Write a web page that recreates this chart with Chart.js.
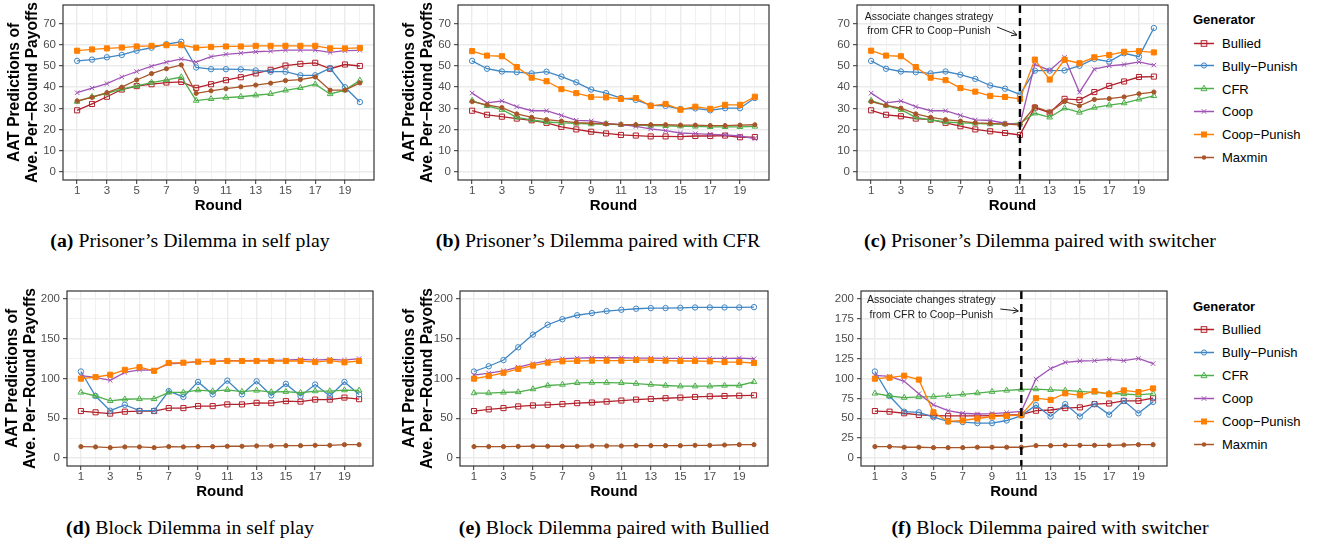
<!DOCTYPE html>
<html>
<head>
<meta charset="utf-8">
<script src="https://cdn.jsdelivr.net/npm/chart.js@4.4.1/dist/chart.umd.min.js"></script>
<style>
  body { margin: 0; background: #fff; width: 1321px; height: 544px; position: relative; overflow: hidden;
         font-family: "Liberation Sans", Arial, sans-serif; }
  canvas { position: absolute; }
  .cap { position: absolute; font-family: "Liberation Serif", "Times New Roman", serif; font-size: 19.8px;
         color: #000; white-space: nowrap; transform: translate(-50%, -50%); }
  .lg { position: absolute; font-size: 13px; color: #000; white-space: nowrap; transform: translateY(-50%); }
  .lg b { font-weight: bold; }
  .lg svg { position: absolute; }
</style>
</head>
<body>

<div class="cap" style="left:190px;top:240px"><b>(a)</b> Prisoner’s Dilemma in self play</div>
<div class="cap" style="left:598px;top:240px"><b>(b)</b> Prisoner’s Dilemma paired with CFR</div>
<div class="cap" style="left:1040px;top:240px"><b>(c)</b> Prisoner’s Dilemma paired with switcher</div>
<div class="cap" style="left:190px;top:527px"><b>(d)</b> Block Dilemma in self play</div>
<div class="cap" style="left:614px;top:527px"><b>(e)</b> Block Dilemma paired with Bullied</div>
<div class="cap" style="left:1050px;top:527px"><b>(f)</b> Block Dilemma paired with switcher</div>

<script>
const rounds = [1, 2, 3, 4, 5, 6, 7, 8, 9, 10, 11, 12, 13, 14, 15, 16, 17, 18, 19, 20];
const seriesNames = ['Bullied', 'Bully−Punish', 'CFR', 'Coop', 'Coop−Punish', 'Maxmin'];

const pdTicks = [0, 5, 10, 15, 20, 25, 30, 35, 40, 45, 50, 55, 60, 65, 70, 75];
const pdLabels = [0, 10, 20, 30, 40, 50, 60, 70];
const bdTicks = [0, 25, 50, 75, 100, 125, 150, 175, 200];
const bdLabels = [0, 50, 100, 150, 200];
const bdSwTicks = [0, 12.5, 25, 37.5, 50, 62.5, 75, 87.5, 100, 112.5, 125, 137.5, 150, 162.5, 175, 187.5, 200];
const bdSwLabels = [0, 25, 50, 75, 100, 125, 150, 175, 200];

// (a) Prisoner's Dilemma in self play
const aBullied     = [29.1, 32.1, 35.5, 38.9, 40.5, 41.4, 42.2, 42.5, 39.7, 41.4, 43.3, 44.7, 46.5, 48.2, 50.2, 51.0, 51.5, 48.7, 50.7, 50.0];
const aBullyPunish = [52.4, 53.0, 54.1, 55.2, 57.2, 58.6, 60.3, 61.4, 49.3, 48.5, 48.5, 48.4, 47.9, 47.3, 47.3, 45.6, 45.6, 49.0, 40.0, 33.0];
const aCFR         = [33.2, 35.5, 37.1, 39.1, 40.6, 42.2, 43.4, 44.8, 33.7, 34.5, 35.1, 35.5, 36.2, 36.9, 38.5, 39.7, 41.4, 36.8, 38.6, 43.2];
const aCoop        = [37.4, 39.6, 41.7, 44.8, 47.4, 49.9, 51.8, 53.3, 51.8, 54.4, 55.5, 56.1, 56.7, 57.0, 57.5, 57.5, 57.5, 56.4, 57.2, 57.4];
const aCoopPunish  = [57.2, 57.8, 58.3, 58.7, 59.2, 59.5, 59.8, 59.8, 58.6, 59.0, 59.2, 59.2, 59.5, 59.5, 59.5, 59.5, 59.5, 58.3, 58.3, 58.5];
const aMaxmin      = [33.5, 35.2, 37.4, 40.0, 43.4, 46.4, 48.7, 50.5, 37.1, 38.3, 39.3, 40.2, 41.0, 41.9, 43.1, 43.6, 44.8, 38.6, 38.6, 42.0];

// (b) Prisoner's Dilemma paired with CFR
const bBullied     = [28.9, 27.0, 26.1, 25.2, 24.4, 23.2, 21.3, 20.1, 19.0, 18.2, 17.5, 17.2, 16.8, 16.8, 16.7, 17.0, 17.0, 17.2, 16.4, 16.5];
const bBullyPunish = [52.4, 48.7, 47.4, 47.1, 46.5, 47.3, 45.0, 42.3, 38.9, 37.2, 34.9, 34.0, 31.4, 31.2, 29.7, 30.0, 29.1, 30.1, 30.1, 34.9];
const bCFR         = [33.7, 31.2, 29.4, 25.8, 24.6, 23.6, 23.2, 22.9, 22.6, 22.7, 22.3, 22.1, 21.9, 21.8, 21.6, 21.5, 21.3, 21.3, 21.3, 21.5];
const bCoop        = [37.2, 32.6, 33.5, 30.8, 28.9, 28.9, 26.7, 24.4, 24.1, 22.9, 22.4, 21.5, 20.4, 19.5, 18.4, 18.1, 17.8, 17.5, 17.0, 15.8];
const bCoopPunish  = [57.0, 54.9, 54.6, 49.5, 44.5, 42.8, 39.1, 37.2, 35.4, 35.2, 34.5, 34.9, 31.2, 32.1, 29.4, 30.8, 29.8, 31.7, 31.7, 35.5];
const bMaxmin      = [33.2, 31.7, 30.4, 27.4, 25.8, 24.7, 24.0, 23.3, 23.0, 22.7, 22.4, 22.3, 22.3, 22.3, 22.1, 22.1, 21.9, 21.9, 22.1, 22.3];

// (c) Prisoner's Dilemma paired with switcher
const cBullied     = [29.1, 27.0, 26.3, 25.2, 24.7, 23.2, 21.6, 20.1, 19.2, 18.4, 17.5, 30.4, 28.0, 34.5, 34.0, 37.7, 40.6, 42.7, 44.8, 45.0];
const cBullyPunish = [52.4, 48.7, 47.4, 47.1, 46.5, 47.4, 45.9, 43.9, 40.8, 39.3, 36.6, 47.8, 47.8, 47.9, 50.1, 53.3, 52.1, 56.0, 54.4, 67.9];
const cCFR         = [33.7, 31.4, 29.4, 25.8, 24.6, 23.6, 23.2, 22.9, 22.6, 22.6, 23.0, 27.7, 25.8, 30.1, 28.1, 30.4, 31.5, 32.5, 34.3, 35.9];
const cCoop        = [37.2, 32.6, 33.5, 30.8, 28.9, 28.9, 26.7, 24.6, 24.3, 23.0, 22.4, 50.8, 47.9, 54.1, 37.6, 48.5, 50.1, 50.7, 51.9, 50.4];
const cCoopPunish  = [57.2, 54.9, 54.6, 49.5, 44.5, 43.3, 39.6, 37.9, 35.9, 35.4, 34.5, 53.0, 43.6, 52.9, 51.3, 54.1, 55.2, 56.7, 57.0, 56.4];
const cMaxmin      = [33.2, 31.4, 30.1, 27.4, 25.8, 24.7, 24.0, 23.2, 22.9, 22.6, 22.3, 30.8, 28.3, 33.2, 31.2, 34.2, 34.6, 35.4, 36.9, 37.7];

// (d) Block Dilemma in self play
const dBullied     = [59.1, 57.5, 55.9, 58.3, 59.1, 59.1, 62.8, 62.8, 65.3, 65.3, 67.4, 67.4, 69.4, 69.0, 71.5, 71.0, 73.5, 73.5, 76.0, 74.0];
const dBullyPunish = [108.8, 78.0, 59.5, 66.9, 59.5, 59.5, 84.2, 76.8, 95.7, 80.1, 97.3, 80.1, 96.5, 78.9, 93.2, 78.0, 92.4, 78.0, 95.7, 80.0];
const dCFR         = [82.5, 78.0, 71.9, 73.9, 74.3, 74.3, 82.5, 82.5, 85.4, 84.2, 85.8, 83.4, 85.0, 83.0, 83.4, 82.1, 84.2, 84.2, 85.4, 85.0];
const dCoop        = [103.5, 101.4, 97.7, 107.6, 110.9, 110.5, 118.3, 119.5, 121.1, 121.6, 122.4, 122.4, 122.8, 122.8, 123.2, 124.0, 123.2, 124.0, 123.2, 125.0];
const dCoopPunish  = [99.8, 101.8, 104.7, 110.9, 114.2, 109.7, 119.5, 119.9, 121.1, 121.1, 122.0, 122.0, 122.0, 122.0, 122.0, 122.0, 120.7, 122.4, 120.3, 122.0];
const dMaxmin      = [14.4, 14.0, 13.1, 14.0, 14.0, 13.1, 14.4, 14.0, 14.4, 14.4, 14.8, 14.8, 15.2, 15.2, 15.6, 15.6, 16.0, 16.0, 16.8, 16.8];

// (e) Block Dilemma paired with Bullied
const eBullied     = [59.1, 61.2, 62.8, 64.9, 66.1, 66.9, 67.8, 69.0, 69.8, 71.0, 72.3, 73.5, 74.3, 75.2, 76.0, 76.8, 77.6, 78.0, 78.4, 78.9];
const eBullyPunish = [108.8, 115.4, 123.2, 139.2, 155.2, 167.6, 174.5, 179.5, 182.3, 184.8, 186.4, 187.7, 188.5, 188.5, 188.9, 189.3, 189.3, 189.3, 189.3, 189.7];
const eCFR         = [81.7, 81.7, 82.5, 83.0, 86.7, 91.2, 92.4, 94.5, 94.9, 94.9, 94.5, 93.6, 92.4, 91.2, 90.3, 90.3, 90.3, 91.2, 91.2, 95.7];
const eCoop        = [104.3, 106.8, 109.7, 114.2, 118.7, 122.4, 124.8, 125.7, 126.1, 126.1, 126.1, 125.7, 125.7, 125.3, 125.3, 125.3, 125.3, 125.3, 125.7, 124.8];
const eCoopPunish  = [99.8, 103.1, 107.2, 112.1, 116.2, 119.9, 121.6, 122.0, 122.4, 122.4, 122.4, 123.2, 123.2, 122.4, 122.0, 122.0, 121.6, 120.7, 120.7, 119.5];
const eMaxmin      = [14.4, 14.4, 14.4, 14.6, 14.8, 14.8, 14.8, 14.8, 15.2, 15.2, 15.2, 15.6, 15.6, 15.6, 15.6, 16.0, 16.0, 16.4, 16.8, 16.8];

// (f) Block Dilemma paired with switcher
const fBullied     = [59.1, 58.3, 56.3, 54.2, 53.4, 53.0, 53.0, 53.0, 53.4, 53.8, 54.6, 59.5, 60.4, 62.8, 63.7, 67.8, 68.6, 71.9, 71.9, 75.2];
const fBullyPunish = [108.8, 78.0, 58.3, 57.5, 51.3, 46.0, 45.2, 43.9, 43.9, 47.2, 53.4, 66.5, 52.2, 67.8, 52.2, 67.8, 54.6, 71.9, 56.3, 70.6];
const fCFR         = [81.3, 78.0, 76.0, 76.8, 77.2, 78.4, 80.1, 81.7, 83.4, 85.0, 86.2, 86.7, 85.8, 85.0, 83.8, 82.5, 81.3, 80.5, 79.3, 80.9];
const fCoop        = [103.9, 102.7, 96.5, 80.9, 66.9, 59.5, 56.3, 55.4, 55.9, 57.1, 58.7, 99.4, 112.5, 120.3, 122.0, 122.4, 124.0, 122.4, 125.3, 118.7];
const fCoopPunish  = [99.8, 101.0, 103.5, 98.6, 57.5, 46.0, 47.2, 49.7, 52.2, 53.0, 54.2, 75.2, 73.1, 81.3, 78.9, 84.2, 80.1, 85.0, 83.0, 87.5];
const fMaxmin      = [14.4, 14.4, 13.6, 13.6, 13.1, 13.1, 13.1, 13.6, 13.6, 13.6, 13.6, 15.6, 15.6, 16.0, 16.0, 16.0, 16.0, 16.4, 16.8, 16.8];

// styles
const colors  = ['#B2202A', '#3F86C4', '#4DAF4A', '#A055B5', '#FF7F00', '#A65628'];
const shapes  = ['rect', 'circle', 'triangle', 'crossRot', 'rect', 'circle'];
const filled  = [false, false, false, false, true, true];
const radii   = [3.6, 2.7, 3.3, 3.2, 3.6, 2.1];

const sans = '"Liberation Sans", Arial, sans-serif';

const frame = {
  id: 'frame',
  afterDraw(chart) {
    const { ctx, chartArea: a } = chart;
    ctx.save();
    ctx.strokeStyle = '#333333';
    ctx.lineWidth = 1.2;
    ctx.strokeRect(a.left, a.top, a.right - a.left, a.bottom - a.top);
    ctx.restore();
  }
};

// dashed line at the switch round + note with arrow
const switchNote = {
  id: 'switchNote',
  afterDatasetsDraw(chart, args, opts) {
    const { ctx, chartArea: a, scales: { x } } = chart;
    const px = x.getPixelForValue(opts.round);
    ctx.save();
    ctx.strokeStyle = '#000';
    ctx.lineWidth = 2.4;
    ctx.setLineDash([8, 5]);
    ctx.beginPath();
    ctx.moveTo(px, a.top);
    ctx.lineTo(px, a.bottom);
    ctx.stroke();
    ctx.setLineDash([]);

    ctx.fillStyle = '#1a1a1a';
    ctx.font = '10.5px ' + sans;
    ctx.textAlign = 'center';
    ctx.textBaseline = 'middle';
    opts.lines.forEach((t, i) => ctx.fillText(t, px + opts.textDx, a.top + opts.textDy[i]));

    const x0 = px + opts.arrow[0], y0 = a.top + opts.arrow[1];
    const x1 = px + opts.arrow[2], y1 = a.top + opts.arrow[3];
    const ang = Math.atan2(y1 - y0, x1 - x0);
    ctx.lineWidth = 1;
    ctx.strokeStyle = '#1a1a1a';
    ctx.beginPath();
    ctx.moveTo(x0, y0);
    ctx.lineTo(x1, y1);
    ctx.moveTo(x1 - 6 * Math.cos(ang - 0.5), y1 - 6 * Math.sin(ang - 0.5));
    ctx.lineTo(x1, y1);
    ctx.lineTo(x1 - 6 * Math.cos(ang + 0.5), y1 - 6 * Math.sin(ang + 0.5));
    ctx.stroke();
    ctx.restore();
  }
};

function makePanel(p) {
  const padTop = 2, padRight = 2, xh = 36;
  const plotW = p.plot[2] - p.plot[0], plotH = p.plot[3] - p.plot[1];
  const cv = document.createElement('canvas');
  cv.width = p.yw + plotW + padRight;
  cv.height = padTop + plotH + xh;
  cv.style.left = (p.plot[0] - p.yw) + 'px';
  cv.style.top = (p.plot[1] - padTop) + 'px';
  document.body.appendChild(cv);

  const datasets = p.series.map((vals, i) => ({
    label: seriesNames[i],
    data: rounds.map((r, k) => ({ x: r, y: vals[k] })),
    borderColor: colors[i],
    backgroundColor: filled[i] ? colors[i] : 'rgba(0,0,0,0)',
    pointBorderColor: colors[i],
    pointBackgroundColor: filled[i] ? colors[i] : 'rgba(0,0,0,0)',
    pointStyle: shapes[i],
    pointRadius: radii[i],
    pointBorderWidth: 1,
    borderWidth: 1.3,
    tension: 0,
    order: 6 - i
  }));

  const majorX = v => v % 2 === 1;
  const majorY = v => p.yLabels.includes(v);

  new Chart(cv, {
    type: 'line',
    data: { datasets },
    plugins: p.note ? [frame, switchNote] : [frame],
    options: {
      responsive: false,
      animation: false,
      layout: { padding: { top: padTop, right: padRight, left: 0, bottom: 0 } },
      plugins: {
        legend: { display: false },
        tooltip: { enabled: false },
        switchNote: p.note || {}
      },
      scales: {
        x: {
          type: 'linear',
          min: 0.05,
          max: 20.95,
          afterBuildTicks: s => { s.ticks = rounds.map(v => ({ value: v })); },
          afterFit: s => { s.height = xh; s.paddingLeft = 0; s.paddingRight = 0; },
          ticks: {
            autoSkip: false, maxRotation: 0, padding: 0,
            color: '#4d4d4d', font: { family: sans, size: 11.5 },
            callback: v => majorX(v) ? String(v) : ''
          },
          grid: {
            color: '#ebebeb',
            lineWidth: c => (c.tick && majorX(c.tick.value)) ? 1.4 : 0.7,
            tickLength: 4,
            tickColor: c => (c.tick && majorX(c.tick.value)) ? '#333333' : 'rgba(0,0,0,0)',
            tickWidth: 1
          },
          border: { display: false },
          title: {
            display: true, text: 'Round', color: '#000',
            font: { family: sans, size: 15, weight: 'bold', lineHeight: '18px' },
            padding: { top: 0, bottom: 1 }
          }
        },
        y: {
          type: 'linear',
          min: p.yMin,
          max: p.yMax,
          afterBuildTicks: s => { s.ticks = p.yTicks.map(v => ({ value: v })); },
          afterFit: s => { s.width = p.yw; s.paddingTop = 0; s.paddingBottom = 0; },
          ticks: {
            padding: 3,
            color: '#4d4d4d', font: { family: sans, size: 11.5 },
            callback: v => majorY(v) ? String(v) : ''
          },
          grid: {
            color: '#ebebeb',
            lineWidth: c => (c.tick && majorY(c.tick.value)) ? 1.4 : 0.7,
            tickLength: 4,
            tickColor: c => (c.tick && majorY(c.tick.value)) ? '#333333' : 'rgba(0,0,0,0)',
            tickWidth: 1
          },
          border: { display: false },
          title: {
            display: p.yTitle, text: ['AAT Predictions of', 'Ave. Per−Round Payoffs'], color: '#000',
            font: { family: sans, size: 15.6, weight: 'bold', lineHeight: '18px' },
            padding: { top: p.titlePad || 6, bottom: 0 }
          }
        }
      }
    }
  });
}

const pdAxis = { yMin: -3.75, yMax: 78.75, yTicks: pdTicks, yLabels: pdLabels };
const bdAxis = { yMin: -10, yMax: 210, yTicks: bdTicks, yLabels: bdLabels };
const bdSwAxis = { yMin: -10, yMax: 210, yTicks: bdSwTicks, yLabels: bdSwLabels };
const noteLines = ['Associate changes strategy', 'from CFR to Coop−Punish'];

makePanel({ ...pdAxis, plot: [63, 2, 377, 180], yw: 63, yTitle: true,
  series: [aBullied, aBullyPunish, aCFR, aCoop, aCoopPunish, aMaxmin] });
makePanel({ ...pdAxis, plot: [458, 2, 772, 180], yw: 63, yTitle: true,
  series: [bBullied, bBullyPunish, bCFR, bCoop, bCoopPunish, bMaxmin] });
makePanel({ ...pdAxis, plot: [857, 2, 1171, 180], yw: 30, yTitle: false,
  series: [cBullied, cBullyPunish, cCFR, cCoop, cCoopPunish, cMaxmin],
  note: { round: 11, lines: noteLines, textDx: -91, textDy: [12, 26], arrow: [-23, 22, -3, 30] } });

makePanel({ ...bdAxis, plot: [67, 288, 376, 466], yw: 67, yTitle: true, titlePad: 4,
  series: [dBullied, dBullyPunish, dCFR, dCoop, dCoopPunish, dMaxmin] });
makePanel({ ...bdAxis, plot: [460, 288, 771, 466], yw: 65, yTitle: true,
  series: [eBullied, eBullyPunish, eCFR, eCoop, eCoopPunish, eMaxmin] });
makePanel({ ...bdSwAxis, plot: [861, 288, 1170, 466], yw: 32, yTitle: false,
  series: [fBullied, fBullyPunish, fCFR, fCoop, fCoopPunish, fMaxmin],
  note: { round: 11, lines: noteLines, textDx: -90, textDy: [9, 24], arrow: [-21, 18, -3, 20] } });

// legends (one per row)
function icon(i) {
  const c = colors[i];
  let m = '';
  if (i === 0) m = `<rect x="8.2" y="3.2" width="5.6" height="5.6" fill="none" stroke="${c}" stroke-width="1"/>`;
  if (i === 1) m = `<circle cx="11" cy="6" r="2.6" fill="none" stroke="${c}" stroke-width="1"/>`;
  if (i === 2) m = `<polygon points="11,2.6 14,8.2 8,8.2" fill="none" stroke="${c}" stroke-width="1"/>`;
  if (i === 3) m = `<path d="M8.7 3.7L13.3 8.3M13.3 3.7L8.7 8.3" stroke="${c}" stroke-width="1"/>`;
  if (i === 4) m = `<rect x="8" y="3" width="6" height="6" fill="${c}"/>`;
  if (i === 5) m = `<circle cx="11" cy="6" r="2.2" fill="${c}"/>`;
  return `<svg width="22" height="12" style="left:-29px;top:50%;margin-top:-6px">` +
         `<line x1="1" y1="6" x2="21" y2="6" stroke="${c}" stroke-width="1.3"/>${m}</svg>`;
}

function legend(titleY, firstY, step) {
  const t = document.createElement('div');
  t.className = 'lg';
  t.style.left = '1193px';
  t.style.top = titleY + 'px';
  t.innerHTML = '<b>Generator</b>';
  document.body.appendChild(t);
  seriesNames.forEach((name, i) => {
    const d = document.createElement('div');
    d.className = 'lg';
    d.style.left = '1222px';
    d.style.top = (firstY + i * step) + 'px';
    d.innerHTML = icon(i) + '<span>' + name + '</span>';
    document.body.appendChild(d);
  });
}
legend(19, 43, 22.8);
legend(306, 329, 23);
</script>
</body>
</html>
